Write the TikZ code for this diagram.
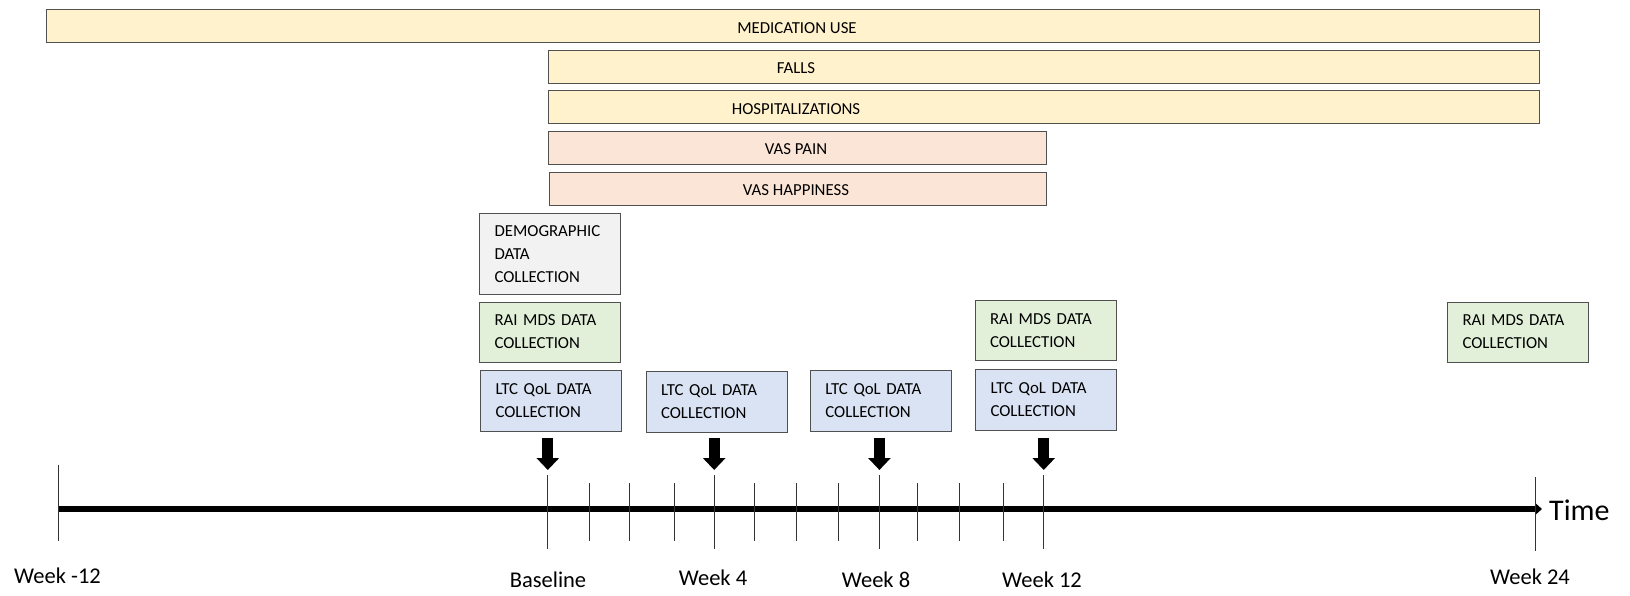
\documentclass[tikz,border=0pt]{standalone}
\usepackage{fontspec}
\setmainfont{Carlito}
\usetikzlibrary{arrows.meta}

\definecolor{gold}{HTML}{FFF2CC}
\definecolor{peach}{HTML}{FBE5D6}
\definecolor{paleGrey}{HTML}{F2F2F2}
\definecolor{paleGreen}{HTML}{E2F0D9}
\definecolor{paleBlue}{HTML}{DAE3F3}
\definecolor{edgeGrey}{HTML}{505050}

\begin{document}
\begin{tikzpicture}[x=1pt, y=-1pt,
  bar/.style={draw=edgeGrey, line width=1pt, anchor=north west, inner sep=0pt, minimum height=33pt},
  barlabel/.style={font=\fontsize{16.8}{20}\selectfont, inner sep=0pt, anchor=center},
  card/.style={draw=edgeGrey, line width=1pt, anchor=north west, inner xsep=15pt, inner ysep=0pt,
    text width=111pt, align=left, font=\fontsize{16.8}{23}\selectfont},
  rai/.style={card, fill=paleGreen, minimum height=60pt},
  qol/.style={card, fill=paleBlue, minimum height=61pt},
  timeline/.style={line width=5.5pt, -{Triangle[length=7pt, width=12pt]}},
  pointer/.style={line width=11pt, -{Triangle[length=12pt, width=22pt]}},
  majortick/.style={draw=black!80, line width=0.9pt},
  minortick/.style={draw=black!80, line width=0.9pt},
  weeklabel/.style={font=\fontsize{22.5}{26}\selectfont, inner sep=0pt, anchor=base},
]
\useasboundingbox (0,0) rectangle (1630,595);

% measurement periods
\node[bar, fill=gold,  minimum width=1492.8pt] (med)   at (45.7,9.4)   {};
\node[bar, fill=gold,  minimum width=990.7pt]  (falls) at (547.8,49.9)  {};
\node[bar, fill=gold,  minimum width=990.7pt]  (hosp)  at (547.8,90.4)  {};
\node[bar, fill=peach, minimum width=498pt]    (pain)  at (547.8,131)   {};
\node[bar, fill=peach, minimum width=497pt]    (happy) at (548.8,171.5) {};

\node[barlabel] (medL)   at (797,28)    {MEDICATION USE};
\node[barlabel] (fallsL) at (796,68.5)  {FALLS};
\node[barlabel] (hospL)  at (796,109)   {HOSPITALIZATIONS};
\node[barlabel] (painL)  at (796,149.5) {VAS PAIN};
\node[barlabel] (happyL) at (796,190.5) {VAS HAPPINESS};

% data collection points
\node[card, fill=paleGrey, minimum height=81pt] (demo) at (479,213) {DEMOGRAPHIC\\DATA\\COLLECTION};
\node[rai] (rai0)  at (479,301.5)  {RAI MDS DATA\\COLLECTION};
\node[qol] (qol0)  at (480,370)    {LTC QoL DATA\\COLLECTION};
\node[qol] (qol4)  at (645.5,371)  {LTC QoL DATA\\COLLECTION};
\node[qol] (qol8)  at (809.8,370)  {LTC QoL DATA\\COLLECTION};
\node[rai] (rai12) at (974.5,300.4) {RAI MDS DATA\\COLLECTION};
\node[qol] (qol12) at (975,369)    {LTC QoL DATA\\COLLECTION};
\node[rai] (rai24) at (1447,301.5) {RAI MDS DATA\\COLLECTION};

% time axis
\coordinate (axStart) at (58,509);
\coordinate (axEnd)   at (1542,509);
\draw[timeline] (axStart) -- (axEnd);
\node[font=\fontsize{30}{34}\selectfont, inner sep=0pt, anchor=base west] (time) at (1549,520) {Time};

% ticks
\draw[majortick] (58.2,464.7) -- (58.2,540.5);
\foreach \x in {547.8,714.2,879.4,1043.7}
  \draw[majortick] (\x,475) -- (\x,549);
\draw[majortick] (1535.3,477) -- (1535.3,551);
\foreach \x in {589.4,629.9,674.6,754.7,796.3,838.9,917.9,959.5,1003.1}
  \draw[minortick] (\x,483.4) -- (\x,540.5);

% week labels
\node[weeklabel] (wm12)  at (57.5,583)  {Week -12};
\node[weeklabel] (wbase) at (548,587)   {Baseline};
\node[weeklabel] (w4)    at (713,585)   {Week 4};
\node[weeklabel] (w8)    at (876,587)   {Week 8};
\node[weeklabel] (w12)   at (1042,587)  {Week 12};
\node[weeklabel] (w24)   at (1530,584)  {Week 24};

% pointers to the quality-of-life assessments
\coordinate (p0s)  at (547.8,437.6);  \coordinate (p0e)  at (547.8,470);
\coordinate (p4s)  at (714.2,437.6);  \coordinate (p4e)  at (714.2,470);
\coordinate (p8s)  at (879.4,437.6);  \coordinate (p8e)  at (879.4,470);
\coordinate (p12s) at (1043.7,437.6); \coordinate (p12e) at (1043.7,470);
\draw[pointer] (p0s) -- (p0e);
\draw[pointer] (p4s) -- (p4e);
\draw[pointer] (p8s) -- (p8e);
\draw[pointer] (p12s) -- (p12e);
\end{tikzpicture}
\end{document}
